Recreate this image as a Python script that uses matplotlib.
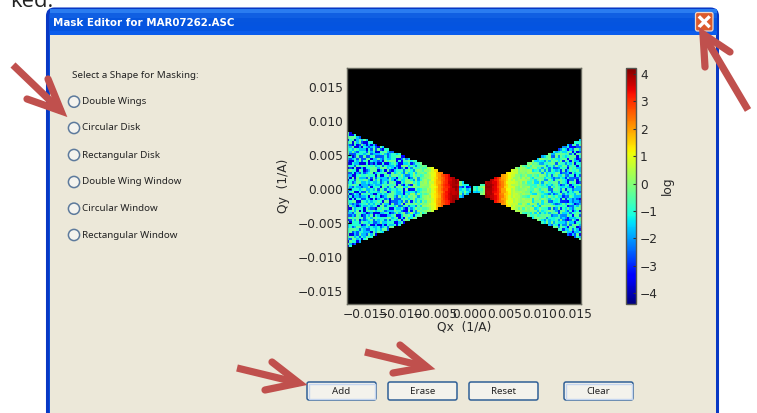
import numpy as np
import matplotlib
matplotlib.use("Agg")
import matplotlib.pyplot as plt
from matplotlib.patches import Rectangle, FancyBboxPatch, Circle

# ---- data ----
X_TICKS = [-0.015, -0.010, -0.005, 0.0, 0.005, 0.010, 0.015]
Y_TICKS = [-0.015, -0.010, -0.005, 0.0, 0.005, 0.010, 0.015]
CBAR_TICKS = [-4, -3, -2, -1, 0, 1, 2, 3, 4]
SHAPES = ["Double Wings", "Circular Disk", "Rectangular Disk",
          "Double Wing Window", "Circular Window", "Rectangular Window"]
BUTTONS = ["Add", "Erase", "Reset", "Clear"]

# half-height (cells) of the unmasked wedge per column
LEFT_HALF = [24,24,23,23,22,22,21,21,21,20, 20,19,19,18,18,18,17,17,16,16,
             15,15,15,14,14,13,13,12,12,12, 11,11,10,10,9,9,9,8,8,7,
             7,6,6,6,5,5,4,4,3,3, 2,2,1]
GAP_HALF = [0]
RIGHT_HALF = [1,1,1,2,2,3,3,4,4,5, 5,5,6,6,7,7,8,8,9,9, 10,10,10,11,11,12,12,13,13,14,
              14,14,15,15,16,16,17,17,18,18, 19,19,19,20,20,21]
# typical log intensity per column
LEFT_LEVEL = [-1.4]*15 + [-1.3]*8 + [-1.1]*4 + [-0.9]*2 + \
             [-0.7,-0.6,-0.4,-0.2,0.0,0.2,0.5, 0.9,1.3,1.7,2.0, 2.5,2.9,3.2,3.5,
              3.7,3.9,4.0,3.8, -0.5, -1.2,-1.0,-1.5,-1.0]
GAP_LEVEL = [0.0]
RIGHT_LEVEL = [-1.0,-0.8,-0.5,-0.2,0.2, 4.0,4.0,3.9,3.7,3.4,3.1,2.6,2.2,1.8,1.4,1.1,
               0.8,0.6,0.4,0.2,0.1,0.0,-0.1,-0.1, -0.2,-0.3,-0.4,-0.5,-0.5,-0.6,
               -0.7,-0.8,-0.8,-0.9,-1.0,-1.0,-1.1,-1.1,-1.2,-1.2,-1.3,-1.3,-1.3,-1.4,-1.4,-1.4]
# speckle strength per column
LEFT_SPREAD = [1.0]*29 + [0.7,0.6,0.5,0.4,0.3,0.2,0.2] + [0.1]*12 + [0.8]*5
GAP_SPREAD = [0.0]
RIGHT_SPREAD = [0.4]*5 + [0.1]*11 + [0.2,0.2,0.25,0.3,0.3,0.35,0.4,0.4] + \
               [0.5,0.5,0.5,0.5,0.6,0.6,0.6,0.6,0.7,0.7,0.7,0.7,0.8,0.8,0.8,0.8,0.9,0.9,0.9,1.0,1.0,1.0]
SPECKLE = ["32403142230413324120342",
           "20314302412342031431024",
           "43120324031240342203142",
           "13402314204312032413420",
           "24031342143023140324213",
           "30214033241340423102343",
           "42301420324203132403124",
           "12043123403142403212430",
           "34210342012433214302143",
           "20341243420310324041232",
           "41302134023424130324301",
           "23104302341203412043124",
           "30423142013342024131403",
           "14230340241321403224032",
           "42013214342031243040213",
           "03241430123402314213424",
           "34120243041342430312041",
           "21403312420134022403143",
           "43021340314230341240320"]
SPECKLE_VALUE = [-2.2, -1.2, -0.3, 0.4, 1.0]

half = np.array(LEFT_HALF + GAP_HALF + RIGHT_HALF)
level = np.array(LEFT_LEVEL + GAP_LEVEL + RIGHT_LEVEL)
spread = np.array(LEFT_SPREAD + GAP_SPREAD + RIGHT_SPREAD)
tile = np.array([[SPECKLE_VALUE[int(ch)] for ch in row] for row in SPECKLE])

nrow, ncol, center = 100, len(half), 51
Z = np.full((nrow, ncol), np.nan)
for c in range(ncol):
    if half[c] > 0:
        for r in range(center - half[c], center + half[c] + 1):
            Z[r, c] = level[c] + spread[c] * tile[(r + c * c) % tile.shape[0], (c + r * r) % tile.shape[1]]
Z = np.ma.masked_invalid(Z)

# ---- figure ----
W, H = 757, 413
fig = plt.figure(figsize=(W / 100, H / 100), dpi=100, facecolor="white")
plt.rcParams["font.family"] = "DejaVu Sans"

def px_axes(x0, y0, x1, y1, **kw):
    return fig.add_axes([x0 / W, 1 - y1 / H, (x1 - x0) / W, (y1 - y0) / H], **kw)

bg = fig.add_axes([0, 0, 1, 1], zorder=0)
bg.set_xlim(0, W); bg.set_ylim(H, 0); bg.axis("off")

BODY = "#ECE8D9"
BLUE = "#0A50DC"
UI = "Noto Sans"
bg.text(10, 7, "ked.", fontsize=15.8, family="Open Sans", color="#222222", va="baseline", ha="left", clip_on=True)
bg.add_patch(FancyBboxPatch((47.5, 9), 670, 420, boxstyle="round,pad=0,rounding_size=7",
                            fc=BLUE, ec="#0838C4", lw=2.2, zorder=1))
grad = np.array([[0.0], [0.25], [0.45], [0.55], [0.7], [1.0]])
bar_cmap = matplotlib.colors.LinearSegmentedColormap.from_list("tb", ["#2A7CF0", "#0856DE", "#0454E0", "#0A5CEC"])
bg.imshow(grad, extent=(49.5, 716, 35, 9), cmap=bar_cmap, aspect="auto", zorder=2)
bg.set_xlim(0, W); bg.set_ylim(H, 0)
bg.add_patch(Rectangle((49.5, 35), 666.5, 390, fc=BODY, ec="none", zorder=3))
bg.text(53, 23, "Mask Editor for MAR07262.ASC", color="white", fontsize=7.4, fontweight="bold",
        family="DejaVu Sans", va="center", ha="left", zorder=4)
# close button
bg.add_patch(FancyBboxPatch((695.5, 12.5), 17.5, 18.5, boxstyle="round,pad=0,rounding_size=2",
                            fc="#DC5A2C", ec="#F0D8C8", lw=0.9, zorder=4))
bg.plot([700, 708.5], [17.5, 26], color="white", lw=2.4, zorder=5)
bg.plot([700, 708.5], [26, 17.5], color="white", lw=2.4, zorder=5)

# left controls
bg.text(72, 75, "Select a Shape for Masking:", fontsize=7.05, family=UI, color="#222222", va="center", zorder=5)
for name, y in zip(SHAPES, [101.7, 128, 155, 182, 208.7, 235]):
    bg.add_patch(Circle((74, y), 5.6, fc="#F4F3EE", ec="#5D7A9C", lw=1.1, zorder=5))
    bg.text(82.5, y, name, fontsize=7.05, family=UI, color="#222222", va="center", zorder=5)

# buttons
for name, (x0, x1) in zip(BUTTONS, [(307, 376), (388, 457), (469, 538), (564, 633)]):
    strong = name in ("Add", "Clear")
    bg.add_patch(FancyBboxPatch((x0, 382), x1 - x0, 18, boxstyle="round,pad=0,rounding_size=2",
                                fc="#F3F2EC", ec="#2F5F96", lw=1.1, zorder=5))
    if strong:
        bg.add_patch(Rectangle((x0 + 1.5, 383.5), x1 - x0 - 3, 15, fc="none", ec="#C4D5F0", lw=1.0, zorder=6))
    bg.text((x0 + x1) / 2, 391.5, name, fontsize=7, family=UI, color="#222222", ha="center", va="center", zorder=7)

# heat map
ax = px_axes(347, 68, 581, 304, zorder=2)
ax.set_facecolor("black")
im = ax.imshow(Z, extent=(-0.0176, 0.0159, -0.0169, 0.0178), cmap="jet", vmin=-4.4, vmax=4.22,
               aspect="auto", interpolation="nearest", origin="upper")
ax.set_xticks(X_TICKS); ax.set_yticks(Y_TICKS)
ax.set_xticklabels([f"{v:.3f}".replace("-", "\u2212") for v in X_TICKS])
ax.set_yticklabels([f"{v:.3f}".replace("-", "\u2212") for v in Y_TICKS])
ax.tick_params(direction="in", length=3, labelsize=8.8, labelcolor="#2a2a2a", pad=3, color="black")
for s in ax.spines.values():
    s.set_color("#6a6a60"); s.set_linewidth(1)
bg.text(464, 327, "Qx  (1/A)", fontsize=8.8, color="#2a2a2a", ha="center", va="center", zorder=5)
bg.text(284, 186, "Qy  (1/A)", fontsize=8.8, color="#2a2a2a", ha="center", va="center", rotation=90, zorder=5)

# colour bar
cax = px_axes(626, 68, 636, 304, zorder=2)
cb = fig.colorbar(im, cax=cax, ticks=CBAR_TICKS)
cb.ax.tick_params(direction="in", length=2, labelsize=8.8, labelcolor="#2a2a2a", pad=3, color="#333333")
cb.ax.set_yticklabels([str(v).replace("-", "\u2212") for v in CBAR_TICKS])
cb.outline.set_edgecolor("#555550"); cb.outline.set_linewidth(1)
bg.text(667, 186, "log", fontsize=8.8, color="#2a2a2a", ha="center", va="center", rotation=90, zorder=5)

# red annotation arrows on top
top = fig.add_axes([0, 0, 1, 1], zorder=5)
top.set_xlim(0, W); top.set_ylim(H, 0); top.axis("off"); top.patch.set_alpha(0)
ARROWS = [((13, 65), (61, 111), (48, 79), (27, 99)),
          ((748, 110), (703, 34), (705, 67), (730, 52)),
          ((237, 368), (299, 383), (272, 362), (265, 390)),
          ((365, 352), (427, 367), (400, 345), (393, 373))]
RED = "#C0504D"
for start, tip, b1, b2 in ARROWS:
    top.plot([start[0], tip[0]], [start[1], tip[1]], color=RED, lw=5.2, solid_capstyle="butt")
    top.plot([b1[0], tip[0], b2[0]], [b1[1], tip[1], b2[1]], color=RED, lw=5.2,
             solid_capstyle="round", solid_joinstyle="miter")

fig.savefig("out.png", dpi=100)
